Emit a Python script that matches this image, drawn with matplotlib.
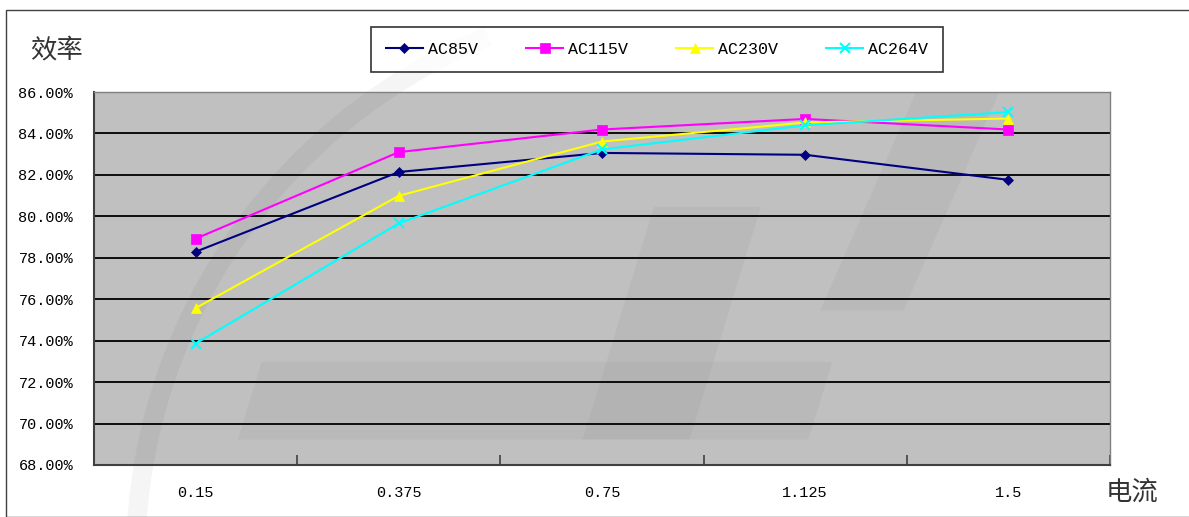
import numpy as np
import matplotlib.pyplot as plt
from matplotlib.patches import Arc, Polygon, Rectangle

plt.rcParams['font.family'] = ['Noto Sans CJK SC', 'DejaVu Sans']

currents = ['0.15', '0.375', '0.75', '1.125', '1.5']
ac85 = [78.29, 82.14, 83.06, 82.97, 81.76]
ac115 = [78.92, 83.10, 84.19, 84.70, 84.19]
ac230 = [75.57, 80.99, 83.61, 84.53, 84.72]
ac264 = [73.86, 79.66, 83.23, 84.39, 85.03]
yticks = [68, 70, 72, 74, 76, 78, 80, 82, 84, 86]

mono = ['Liberation Mono', 'DejaVu Sans Mono']

fig = plt.figure(figsize=(11.89, 5.17), dpi=100)
ax = fig.add_axes([94/1189, 1-465/517, 1016/1189, 373/517])
ax.set_facecolor('#C0C0C0')

# faint watermark
tf = fig.transFigure
ax.add_patch(Arc((0.589, -0.083), 0.950, 2.186, theta1=100, theta2=182,
                 transform=tf, lw=14, color='black', alpha=0.04, clip_on=False, zorder=0.5))
for pts in [[(0.55, 0.60), (0.64, 0.60), (0.58, 0.15), (0.49, 0.15)],
            [(0.77, 0.82), (0.84, 0.82), (0.76, 0.40), (0.69, 0.40)],
            [(0.22, 0.30), (0.70, 0.30), (0.68, 0.15), (0.20, 0.15)]]:
    ax.add_patch(Polygon(pts, closed=True, transform=tf, color='black', alpha=0.03,
                         lw=0, clip_on=True, zorder=0.5))

x = np.arange(len(currents))
series = [('AC85V', ac85, '#000080', 'D', 5),
          ('AC115V', ac115, '#FF00FF', 's', 7),
          ('AC230V', ac230, '#FFFF00', '^', 7),
          ('AC264V', ac264, '#00FFFF', 'x', 7)]
for name, vals, c, m, ms in series:
    ax.plot(x, vals, color=c, marker=m, markersize=ms, lw=1.5, label=name,
            markeredgewidth=1.5 if m == 'x' else 0.5, zorder=3)

ax.set_xlim(-0.5, len(currents) - 0.5)
ax.set_ylim(68, 86)
ax.set_yticks(yticks)
ax.set_yticklabels(['%.2f%%' % v for v in yticks], family=mono, fontsize=11)
ax.yaxis.grid(True, color='black', lw=1.3)
ax.tick_params(axis='y', length=0, pad=15)

ax.set_xticks(x)
ax.set_xticklabels(currents, family=mono, fontsize=11)
ax.set_xticks(np.arange(len(currents) + 1) - 0.5, minor=True)
ax.tick_params(axis='x', which='major', length=0, pad=15)
ax.tick_params(axis='x', which='minor', direction='in', length=7, width=1.2, color='#404040')

for s in ['left', 'bottom']:
    ax.spines[s].set_color('#404040')
    ax.spines[s].set_linewidth(1.5)
for s in ['top', 'right']:
    ax.spines[s].set_color('#808080')
    ax.spines[s].set_linewidth(1)

fig.text(30/1189, 1-50/517, '效率', fontsize=19, color='#333333', va='center', ha='left')
fig.text(1106/1189, 1-492/517, '电流', fontsize=19, color='#333333', va='center', ha='left')

leg = ax.legend(loc='center', bbox_to_anchor=(372/1189, 1-72/517, 570/1189, 46/517),
                bbox_transform=tf, ncol=4, frameon=True, fancybox=False,
                prop={'family': mono, 'size': 12},
                handlelength=2.2, handletextpad=0.3, columnspacing=2.9, borderpad=0.9)
leg.get_frame().set_edgecolor('black')
leg.get_frame().set_linewidth(1.2)

fig.patches.append(Rectangle((6/1189, 0), 1.0, 1-10/517, transform=tf, fill=False,
                             edgecolor='#404040', lw=1))

fig.savefig('out.png', dpi=100)
